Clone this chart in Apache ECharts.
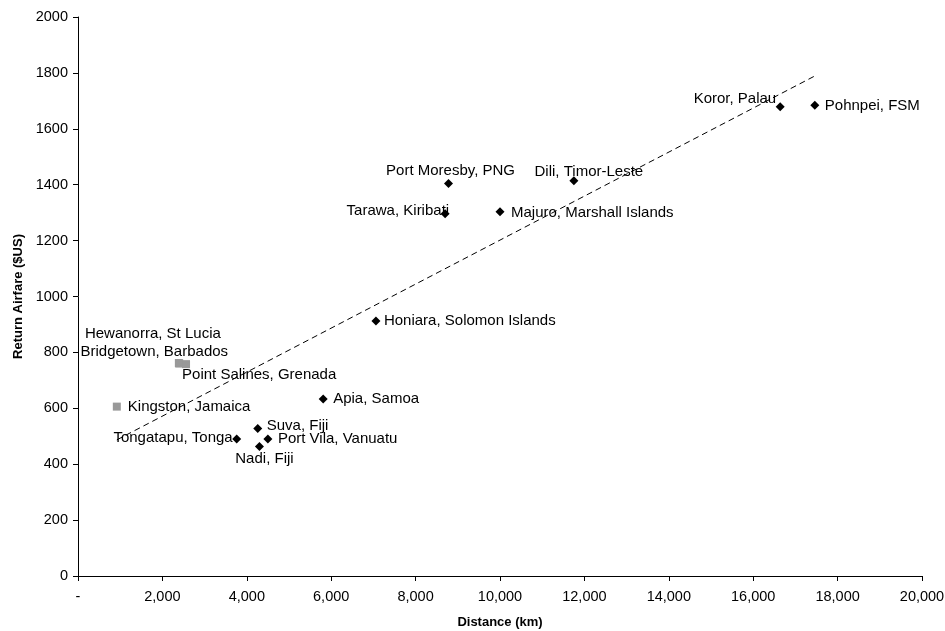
<!DOCTYPE html>
<html>
<head>
<meta charset="utf-8">
<script src="https://cdn.jsdelivr.net/npm/echarts@6/dist/echarts.min.js"></script>
<style>
  html, body { margin: 0; padding: 0; background: #fff; }
  #chart { width: 945px; height: 631px; }
</style>
</head>
<body>
<div id="chart"></div>
<script>
// Pacific destinations (black diamonds)
var pacNames = ['Tongatapu, Tonga', 'Suva, Fiji', 'Nadi, Fiji', 'Port Vila, Vanuatu', 'Apia, Samoa',
  'Honiara, Solomon Islands', 'Tarawa, Kiribati', 'Port Moresby, PNG', 'Majuro, Marshall Islands',
  'Dili, Timor-Leste', 'Koror, Palau', 'Pohnpei, FSM'];
var pacDist = [3760, 4260, 4300, 4500, 5810, 7060, 8700, 8780, 10000, 11750, 16640, 17460];
var pacFare = [490, 528, 463, 490, 633, 912, 1296, 1404, 1303, 1414, 1679, 1684];

// Caribbean destinations (grey squares)
var carNames = ['Hewanorra, St Lucia', 'Bridgetown, Barbados', 'Point Salines, Grenada', 'Kingston, Jamaica'];
var carDist = [2390, 2400, 2560, 920];
var carFare = [762, 760, 758, 606];

// trend line end points
var trendDist = [920, 17460];
var trendFare = [487, 1789];

// label placement: anchor offset from point centre and text alignment
var labelPlace = {
  'Tongatapu, Tonga': [-4, -1, 'right'],
  'Suva, Fiji': [9, -3, 'left'],
  'Nadi, Fiji': [5, 12, 'center'],
  'Port Vila, Vanuatu': [10, 0, 'left'],
  'Apia, Samoa': [10, 0, 'left'],
  'Honiara, Solomon Islands': [8, 0, 'left'],
  'Tarawa, Kiribati': [4, -3, 'right'],
  'Port Moresby, PNG': [2, -13, 'center'],
  'Majuro, Marshall Islands': [11, 1, 'left'],
  'Dili, Timor-Leste': [15, -9, 'center'],
  'Koror, Palau': [-4, -8, 'right'],
  'Pohnpei, FSM': [10, 1, 'left'],
  'Hewanorra, St Lucia': [-26, -29, 'center'],
  'Bridgetown, Barbados': [-25, -12, 'center'],
  'Point Salines, Grenada': [-4, 11, 'left'],
  'Kingston, Jamaica': [11, 0, 'left']
};

var font = 'Liberation Sans, Arial, sans-serif';

function buildPoints(names, xs, ys) {
  return names.map(function (n, i) {
    var p = labelPlace[n];
    return {
      name: n,
      value: [xs[i], ys[i]],
      label: {
        show: true,
        position: 'inside',
        offset: [p[0], p[1]],
        align: p[2],
        verticalAlign: 'middle',
        formatter: n,
        color: '#000',
        opacity: 1,
        fontSize: 15,
        fontFamily: font
      }
    };
  });
}

var option = {
  animation: false,
  backgroundColor: '#fff',
  grid: { left: 78, right: 23, top: 17, bottom: 55, containLabel: false, outerBoundsMode: 'none' },
  xAxis: {
    type: 'value',
    min: 0,
    max: 20000,
    interval: 2000,
    name: 'Distance (km)',
    nameLocation: 'middle',
    nameGap: 40,
    nameTextStyle: { color: '#000', fontWeight: 'bold', fontSize: 13, fontFamily: font },
    axisLine: { show: true, onZero: false, lineStyle: { color: '#000', width: 1 } },
    axisTick: { show: true, length: 5, lineStyle: { color: '#000' } },
    axisLabel: {
      color: '#000', fontSize: 14.5, fontFamily: font, margin: 13,
      formatter: function (v) { return v === 0 ? '-' : v.toLocaleString('en-US'); }
    },
    splitLine: { show: false }
  },
  yAxis: {
    type: 'value',
    min: 0,
    max: 2000,
    interval: 200,
    name: 'Return Airfare ($US)',
    nameLocation: 'middle',
    nameGap: 48,
    nameTextStyle: { color: '#000', fontWeight: 'bold', fontSize: 13, fontFamily: font },
    axisLine: { show: true, onZero: false, lineStyle: { color: '#000', width: 1 } },
    axisTick: { show: true, length: 5, lineStyle: { color: '#000' } },
    axisLabel: {
      color: '#000', fontSize: 14.5, fontFamily: font, margin: 10,
      formatter: function (v) { return String(v); }
    },
    splitLine: { show: false }
  },
  series: [
    {
      type: 'line',
      data: trendDist.map(function (d, i) { return [d, trendFare[i]]; }),
      symbol: 'none',
      lineStyle: { color: '#000', width: 1, type: [6, 4] },
      silent: true
    },
    {
      type: 'scatter',
      symbol: 'diamond',
      symbolSize: 9,
      itemStyle: { color: '#000', opacity: 1 },
      data: buildPoints(pacNames, pacDist, pacFare)
    },
    {
      type: 'scatter',
      symbol: 'rect',
      symbolSize: 8,
      itemStyle: { color: '#999', opacity: 1 },
      data: buildPoints(carNames, carDist, carFare)
    }
  ]
};

var chart = echarts.init(document.getElementById('chart'));
chart.setOption(option);
</script>
</body>
</html>
